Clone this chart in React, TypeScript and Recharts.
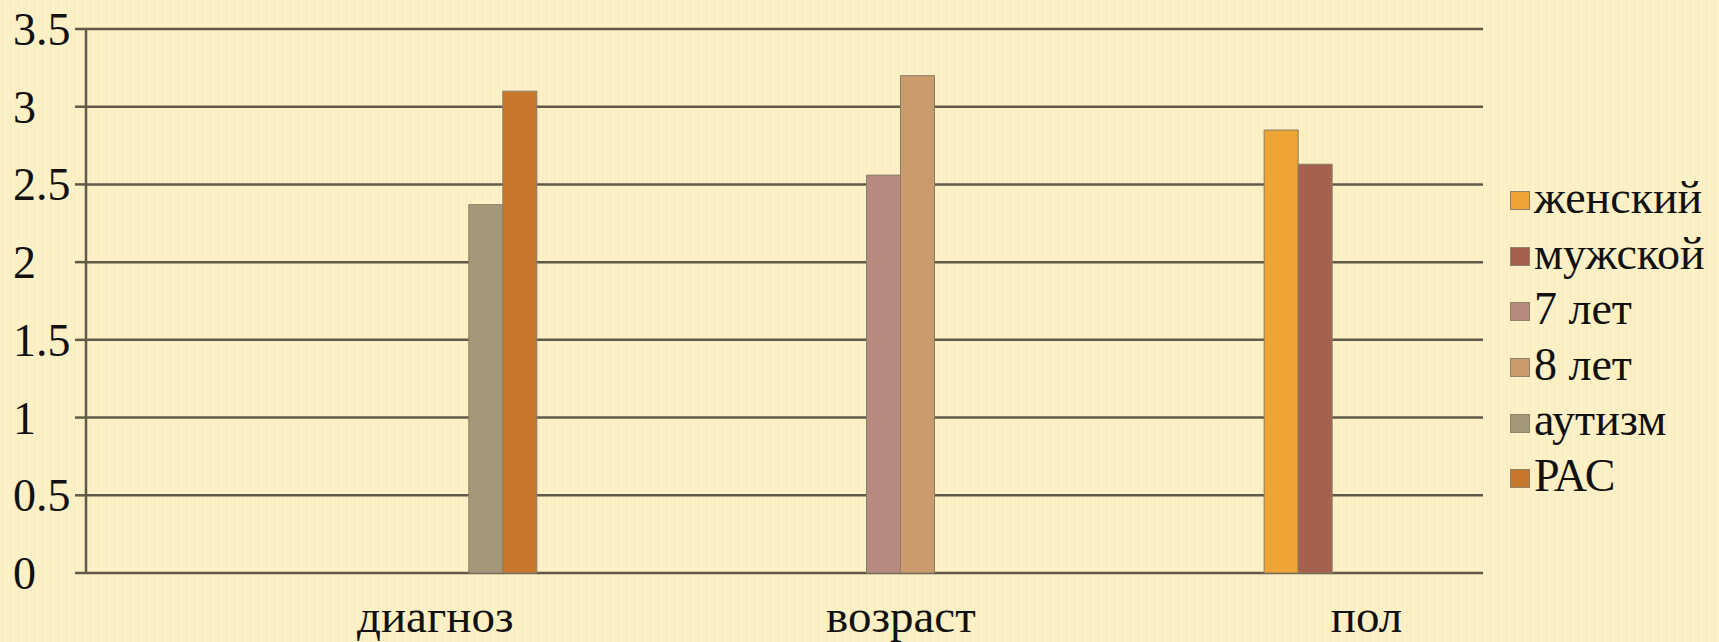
import { Bar, BarChart, CartesianGrid, Legend, XAxis, YAxis } from 'recharts';

// six bands on the category axis, only every other one is labelled
const categories = ['', 'диагноз', '', 'возраст', '', 'пол'];

const femaleValues = [null, null, null, null, null, 2.85];
const maleValues = [null, null, null, null, null, 2.63];
const age7Values = [null, null, null, 2.56, null, null];
const age8Values = [null, null, null, 3.2, null, null];
const autismValues = [null, 2.37, null, null, null, null];
const rasValues = [null, 3.1, null, null, null, null];

const yTicks = [0, 0.5, 1, 1.5, 2, 2.5, 3, 3.5];
const bandEdges = [0, 1, 2, 3, 4, 5, 6];

const series = [
    { name: 'женский', values: femaleValues, fill: '#eda435' },
    { name: 'мужской', values: maleValues, fill: '#a5614d' },
    { name: '7 лет', values: age7Values, fill: '#b78a80' },
    { name: '8 лет', values: age8Values, fill: '#c99b6d' },
    { name: 'аутизм', values: autismValues, fill: '#a39878' },
    { name: 'РАС', values: rasValues, fill: '#c7772b' },
];

const data = categories.map((category, i) => {
    const row: { [key: string]: number | string | null } = { category };
    series.forEach((s) => {
        row[s.name] = s.values[i];
    });
    return row;
});

const FONT = 'Liberation Serif, DejaVu Serif, serif';
const LINE = '#605a48';

const YTick = ({ y, payload }: any) => (
    <text x={13} y={y} dy={16} textAnchor="start" style={{ fontFamily: FONT }} fontSize={46} fill="#111">
        {payload.value}
    </text>
);

const XTick = ({ x, y, payload }: any) => (
    <text x={x} y={y} dy={51} textAnchor="middle" style={{ fontFamily: FONT }} fontSize={47} fill="#111">
        {payload.value}
    </text>
);

const LegendContent = () => (
    <div style={{ fontFamily: FONT, fontSize: 46, color: '#111' }}>
        {series.map((s) => (
            <div key={s.name} style={{ display: 'flex', alignItems: 'center', height: 55.6, whiteSpace: 'nowrap' }}>
                <span
                    style={{
                        display: 'inline-block',
                        width: 18,
                        height: 17,
                        background: s.fill,
                        border: '1px solid #8f8266',
                        marginRight: 4,
                        position: 'relative',
                        top: 3,
                    }}
                />
                <span style={{ lineHeight: '55.6px' }}>{s.name}</span>
            </div>
        ))}
    </div>
);

const App = () => {
    return (
        <div
            style={{
                position: 'absolute',
                left: 0,
                top: 0,
                width: 1719,
                height: 642,
                fontFamily: FONT,
                background: 'repeating-linear-gradient(90deg, #fdf1c8 0px, #fdf1c8 2px, #f9ebbd 3px, #fdf1c8 4px)',
            }}
        >
            <BarChart
                width={1719}
                height={642}
                data={data}
                margin={{ top: 29, right: 236, bottom: 0, left: 0 }}
                barSize={34}
                barGap={0}
            >
                <CartesianGrid horizontal vertical={false} stroke={LINE} strokeWidth={2.5} />
                <XAxis
                    xAxisId="edges"
                    type="number"
                    domain={[0, 6]}
                    ticks={bandEdges}
                    tick={false}
                    tickSize={10}
                    height={0}
                    stroke={LINE}
                    strokeWidth={2.5}
                />
                <XAxis
                    xAxisId="cat"
                    dataKey="category"
                    tickLine={false}
                    axisLine={false}
                    tick={<XTick />}
                    interval={0}
                    height={69}
                />
                <YAxis
                    domain={[0, 3.5]}
                    ticks={yTicks}
                    width={86}
                    tickSize={11}
                    tick={<YTick />}
                    stroke={LINE}
                    strokeWidth={2.5}
                />
                {series.map((s) => (
                    <Bar
                        key={s.name}
                        xAxisId="cat"
                        dataKey={s.name}
                        fill={s.fill}
                        stroke="#8a7e66"
                        strokeWidth={1}
                        isAnimationActive={false}
                    />
                ))}
                <Legend
                    layout="vertical"
                    align="center"
                    verticalAlign="middle"
                    content={<LegendContent />}
                    wrapperStyle={{ left: 1510, top: 170, width: 'auto', height: 'auto' }}
                />
            </BarChart>
        </div>
    );
};

export default App;
